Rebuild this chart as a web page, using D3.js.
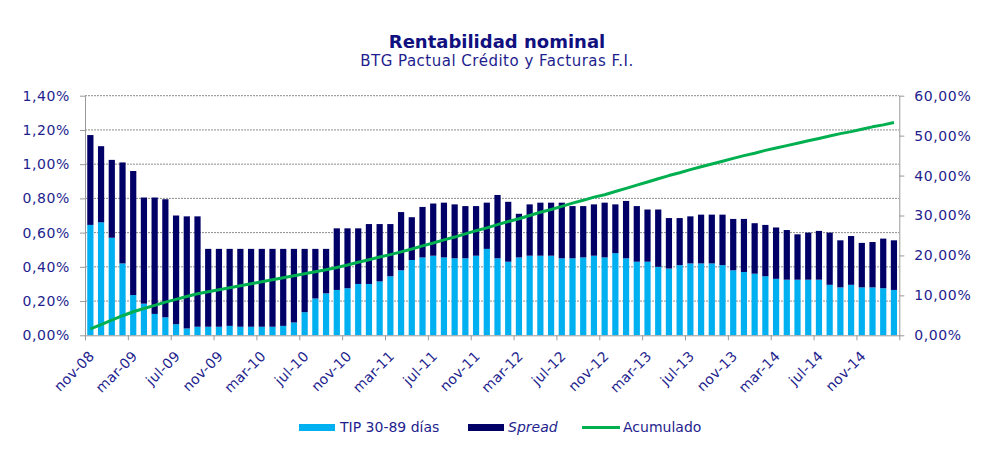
<!DOCTYPE html>
<html>
<head>
<meta charset="utf-8">
<script src="https://cdn.jsdelivr.net/npm/d3@7"></script>
<style>
  body { margin: 0; background: #fff; }
  svg { display: block; font-family: Verdana, "DejaVu Sans", sans-serif; }
</style>
</head>
<body>
<svg id="chart" width="985" height="453"></svg>
<script>
const months = [
  "nov-08","dic-08","ene-09","feb-09","mar-09","abr-09","may-09","jun-09","jul-09","ago-09","sep-09","oct-09",
  "nov-09","dic-09","ene-10","feb-10","mar-10","abr-10","may-10","jun-10","jul-10","ago-10","sep-10","oct-10",
  "nov-10","dic-10","ene-11","feb-11","mar-11","abr-11","may-11","jun-11","jul-11","ago-11","sep-11","oct-11",
  "nov-11","dic-11","ene-12","feb-12","mar-12","abr-12","may-12","jun-12","jul-12","ago-12","sep-12","oct-12",
  "nov-12","dic-12","ene-13","feb-13","mar-13","abr-13","may-13","jun-13","jul-13","ago-13","sep-13","oct-13",
  "nov-13","dic-13","ene-14","feb-14","mar-14","abr-14","may-14","jun-14","jul-14","ago-14","sep-14","oct-14",
  "nov-14","dic-14","ene-15","feb-15"
];

// TIP 30-89 dias (% mensual)
const tip = [
  0.645,0.66,0.57,0.42,0.235,0.185,0.125,0.105,0.065,0.04,0.05,0.05,
  0.05,0.055,0.05,0.05,0.05,0.05,0.055,0.075,0.135,0.215,0.245,0.265,
  0.275,0.30,0.30,0.315,0.345,0.38,0.44,0.455,0.465,0.455,0.45,0.45,
  0.465,0.505,0.45,0.43,0.455,0.465,0.465,0.465,0.45,0.45,0.455,0.465,
  0.455,0.48,0.45,0.43,0.43,0.40,0.39,0.41,0.42,0.42,0.42,0.41,
  0.38,0.37,0.36,0.345,0.33,0.325,0.325,0.325,0.325,0.295,0.28,0.295,
  0.28,0.28,0.275,0.265
];

// Spread (% mensual)
const spread = [
  0.525,0.445,0.455,0.59,0.725,0.62,0.68,0.69,0.635,0.655,0.645,0.455,
  0.455,0.45,0.455,0.455,0.455,0.455,0.45,0.43,0.37,0.29,0.26,0.36,
  0.35,0.325,0.35,0.335,0.305,0.34,0.25,0.295,0.305,0.32,0.315,0.305,
  0.29,0.27,0.37,0.35,0.255,0.30,0.31,0.31,0.325,0.305,0.30,0.30,
  0.32,0.285,0.335,0.325,0.305,0.335,0.295,0.275,0.275,0.285,0.285,0.295,
  0.30,0.31,0.295,0.30,0.30,0.29,0.265,0.275,0.285,0.305,0.275,0.285,
  0.26,0.265,0.29,0.29
];

// Acumulado (%)
const acumulado = [
  1.6,2.7,3.8,4.9,5.9,6.7,7.5,8.3,9.0,9.7,10.4,10.9,
  11.4,11.9,12.4,12.9,13.4,13.9,14.4,14.9,15.4,15.9,16.4,17.0,
  17.6,18.3,18.9,19.6,20.2,20.9,21.6,22.4,23.1,23.9,24.6,25.4,
  26.2,26.9,27.7,28.5,29.2,30.0,30.8,31.5,32.3,33.1,33.8,34.6,
  35.2,36.0,36.8,37.6,38.4,39.2,40.0,40.7,41.5,42.2,42.9,43.6,
  44.3,45.0,45.6,46.3,46.9,47.5,48.1,48.7,49.3,49.9,50.5,51.0,
  51.6,52.2,52.7,53.3
];

const leftTicks = [0, 0.2, 0.4, 0.6, 0.8, 1.0, 1.2, 1.4];
const rightTicks = [0, 10, 20, 30, 40, 50, 60];
const labelMonths = months.filter((m, i) => i % 4 === 0);

const NAVY_TEXT = "#1e1e8e";
const C_TIP = "#00b0f0";
const C_SPREAD = "#000066";
const C_ACUM = "#00b050";

const svg = d3.select("#chart");
const plotLeft = 85, plotRight = 899.3, plotTop = 95.7, plotBottom = 335.3;

const x = d3.scaleBand()
  .domain(months)
  .range([plotLeft, plotRight])
  .paddingInner(0.42)
  .paddingOuter(0.21);

const xi = d3.scaleLinear().domain([0, months.length]).range([plotLeft, plotRight]);
const yL = d3.scaleLinear().domain([0, 1.4]).range([plotBottom, plotTop]);
const yR = d3.scaleLinear().domain([0, 60]).range([plotBottom, plotTop]);

const fmt = v => v.toFixed(2).replace(".", ",") + "%";

// Gridlines
svg.append("g")
  .selectAll("line")
  .data(leftTicks.filter(d => d > 0))
  .enter().append("line")
  .attr("x1", plotLeft).attr("x2", plotRight)
  .attr("y1", d => yL(d)).attr("y2", d => yL(d))
  .attr("stroke", "#8c8c8c")
  .attr("stroke-width", 1)
  .attr("stroke-dasharray", "2,1");

// Stacked bars
const stackData = months.map((m, i) => ({ month: m, tip: tip[i], spread: spread[i] }));
const series = d3.stack().keys(["tip", "spread"])(stackData);
const colors = { tip: C_TIP, spread: C_SPREAD };

svg.append("g")
  .selectAll("g")
  .data(series)
  .enter().append("g")
  .attr("fill", d => colors[d.key])
  .selectAll("rect")
  .data(d => d)
  .enter().append("rect")
  .attr("x", d => x(d.data.month))
  .attr("width", x.bandwidth())
  .attr("y", d => yL(d[1]))
  .attr("height", d => yL(d[0]) - yL(d[1]));

// Axes
const axisStyle = g => {
  g.select(".domain").attr("stroke", "#999");
  g.selectAll(".tick line").attr("stroke", "#999");
  g.selectAll("text").attr("fill", NAVY_TEXT).attr("font-size", "14px")
    .attr("letter-spacing", "0.6px")
    .attr("font-family", 'Verdana, "DejaVu Sans", sans-serif');
};

svg.append("g")
  .attr("transform", `translate(${plotLeft},0)`)
  .call(d3.axisLeft(yL).tickValues(leftTicks).tickFormat(fmt).tickSize(5).tickPadding(10).tickSizeOuter(0))
  .call(axisStyle);

svg.append("g")
  .attr("transform", `translate(${plotRight},0)`)
  .call(d3.axisRight(yR).tickValues(rightTicks).tickFormat(fmt).tickSize(5).tickPadding(10).tickSizeOuter(0))
  .call(axisStyle);

// bottom axis: tick marks on category boundaries
svg.append("g")
  .attr("transform", `translate(0,${plotBottom})`)
  .call(d3.axisBottom(xi).tickValues(d3.range(0, months.length + 1, 4)).tickFormat("").tickSize(5).tickSizeOuter(0))
  .call(axisStyle);

// rotated month labels
svg.append("g")
  .selectAll("text")
  .data(labelMonths)
  .enter().append("text")
  .attr("transform", d => `translate(${x(d) + x.bandwidth() / 2 + 5},357) rotate(-45)`)
  .attr("text-anchor", "end")
  .attr("fill", NAVY_TEXT)
  .attr("font-size", "14px")
  .attr("letter-spacing", "0.3px")
  .text(d => d);

// Acumulado line
const line = d3.line()
  .x((d, i) => x(months[i]) + x.bandwidth() / 2)
  .y(d => yR(d));

svg.append("path")
  .datum(acumulado)
  .attr("fill", "none")
  .attr("stroke", C_ACUM)
  .attr("stroke-width", 3)
  .attr("stroke-linejoin", "round")
  .attr("d", line);

// Titles
svg.append("text")
  .attr("x", 497).attr("y", 48)
  .attr("text-anchor", "middle")
  .attr("fill", "#10107f")
  .attr("font-size", "18px")
  .attr("font-weight", "bold")
  .text("Rentabilidad nominal");

svg.append("text")
  .attr("x", 497).attr("y", 66)
  .attr("text-anchor", "middle")
  .attr("fill", NAVY_TEXT)
  .attr("font-size", "15px")
  .attr("letter-spacing", "0.5px")
  .text("BTG Pactual Crédito y Facturas F.I.");

// Legend
const legend = svg.append("g").attr("font-size", "14px").attr("fill", NAVY_TEXT);
legend.append("rect").attr("x", 299).attr("y", 424).attr("width", 36).attr("height", 7).attr("fill", C_TIP);
legend.append("text").attr("x", 340).attr("y", 432).text("TIP 30-89 días");
legend.append("rect").attr("x", 468).attr("y", 424).attr("width", 36).attr("height", 7).attr("fill", C_SPREAD);
legend.append("text").attr("x", 508).attr("y", 432).attr("font-style", "italic").text("Spread");
legend.append("line").attr("x1", 582).attr("x2", 620).attr("y1", 427.5).attr("y2", 427.5)
  .attr("stroke", C_ACUM).attr("stroke-width", 3);
legend.append("text").attr("x", 623).attr("y", 432).text("Acumulado");
</script>
</body>
</html>
